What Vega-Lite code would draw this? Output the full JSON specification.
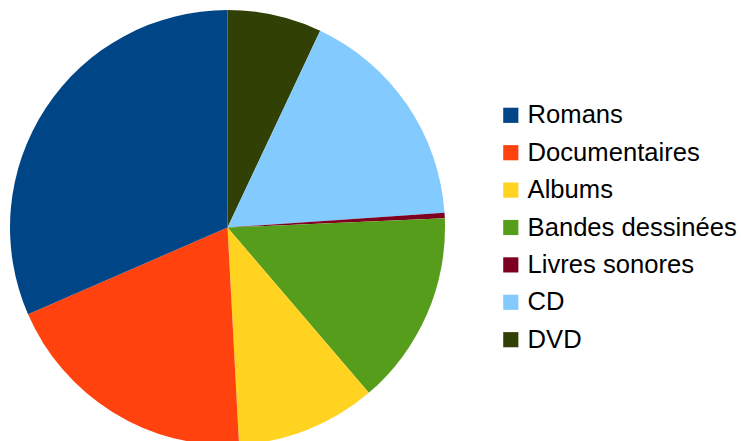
{
  "$schema": "https://vega.github.io/schema/vega-lite/v6.json",
  "width": 435,
  "height": 435,
  "autosize": {"type": "pad"},
  "padding": {"left": 10, "top": 10, "right": 0, "bottom": 0},
  "background": "white",
  "config": {"view": {"stroke": null}, "font": "Liberation Sans"},
  "data": {
    "values": [
      {"categorie": "DVD", "part": 7.0, "rang": 1},
      {"categorie": "CD", "part": 16.9, "rang": 2},
      {"categorie": "Livres sonores", "part": 0.41, "rang": 3},
      {"categorie": "Bandes dessinées", "part": 14.4, "rang": 4},
      {"categorie": "Albums", "part": 10.4, "rang": 5},
      {"categorie": "Documentaires", "part": 19.3, "rang": 6},
      {"categorie": "Romans", "part": 31.5, "rang": 7}
    ]
  },
  "mark": {"type": "arc"},
  "encoding": {
    "theta": {"field": "part", "type": "quantitative", "stack": true},
    "order": {"field": "rang", "type": "quantitative", "sort": "ascending"},
    "color": {
      "field": "categorie",
      "type": "nominal",
      "scale": {
        "domain": ["Romans", "Documentaires", "Albums", "Bandes dessinées", "Livres sonores", "CD", "DVD"],
        "range": ["#004586", "#ff420e", "#ffd320", "#579d1c", "#7e0021", "#83caff", "#314004"]
      },
      "legend": {
        "title": null,
        "orient": "none",
        "legendX": 488,
        "legendY": 92.5,
        "padding": 0,
        "symbolType": "square",
        "symbolSize": 230,
        "symbolStrokeWidth": 0,
        "symbolOpacity": 1,
        "labelFontSize": 25.6,
        "labelFont": "Liberation Sans",
        "labelColor": "#000000",
        "labelOffset": 4,
        "rowPadding": 10.4,
        "labelLimit": 400
      }
    }
  }
}
